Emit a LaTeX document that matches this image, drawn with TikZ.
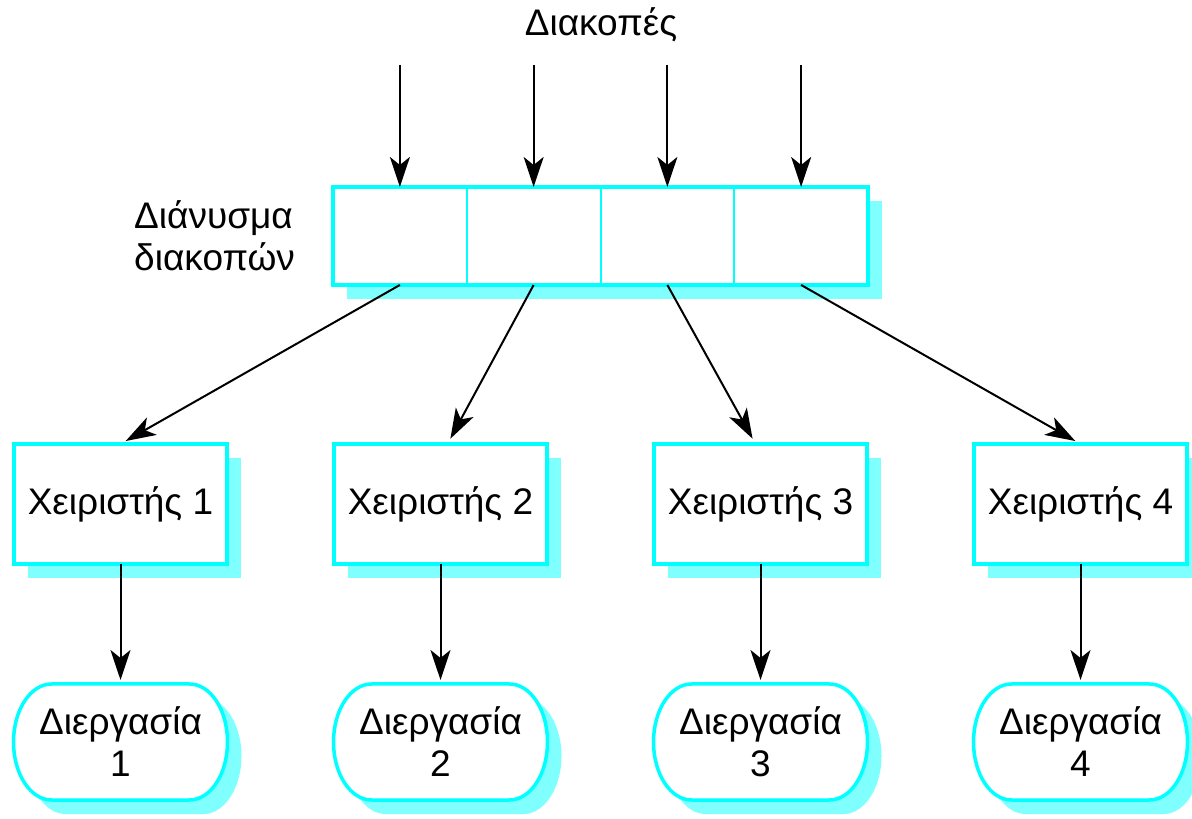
\documentclass[tikz,border=0pt]{standalone}
\usepackage{fontspec}
\setmainfont{Liberation Sans}
\usepackage{xcolor}
\usepackage{tikz}
\usetikzlibrary{arrows.meta, positioning, shadows, calc}

\definecolor{bordercyan}{HTML}{00FFFF}
\definecolor{shadecyan}{HTML}{80FFFF}

\pgfdeclarelayer{background}
\pgfsetlayers{background,main}

\tikzset{
  txt/.style={font=\fontsize{18.5pt}{21pt}\selectfont},
  cyanshade/.style={drop shadow={shadow xshift=7pt, shadow yshift=-7pt, fill=shadecyan, opacity=1}},
  handler/.style={draw=bordercyan, line width=1.75pt, fill=white, cyanshade, minimum width=106.5pt, minimum height=60pt, inner sep=0pt, outer sep=0pt, txt},
  process/.style={minimum width=107pt, minimum height=58pt, inner sep=0pt, outer sep=0pt, align=center, txt},
  procline/.style={fill=white, draw=bordercyan, line width=1.75pt},
  cell/.style={draw=bordercyan, line width=1pt, minimum width=66.875pt, minimum height=49pt, inner sep=0pt, outer sep=0pt},
  arr/.style={line width=1pt, -{Stealth[length=15pt, width=10pt, inset=4pt]}},
}

\begin{document}
\begin{tikzpicture}[x=0.5pt, y=0.5pt]
\useasboundingbox (0,0) rectangle (1192,818);

% interrupt vector
\node[txt, anchor=base] (title) at (601,782) {Διακοπές};
\node[draw=bordercyan, line width=1.75pt, fill=white, cyanshade, minimum width=267.5pt, minimum height=49pt, inner sep=0pt, outer sep=0pt] (vec) at (600.5,582) {};
\node[cell, anchor=west] (c1) at (vec.west) {};
\node[cell, right=0pt of c1] (c2) {};
\node[cell, right=0pt of c2] (c3) {};
\node[cell, right=0pt of c3] (c4) {};
\node[txt, align=left, left=15.5pt of vec] (vlabel) {Διάνυσμα\\διακοπών};

% incoming interrupts
\foreach \i in {1,...,4} {
  \coordinate[above=61pt of c\i] (in\i);
  \draw[arr] (in\i) -- (c\i.north);
}

% handlers
\node[handler] (h1) at (120.5,314) {Χειριστής 1};
\node[handler, right=53.5pt of h1] (h2) {Χειριστής 2};
\node[handler, right=53.5pt of h2] (h3) {Χειριστής 3};
\node[handler, right=53.5pt of h3] (h4) {Χειριστής 4};

\draw[arr, shorten >=3pt] (c1.south) -- (h1.north);
\draw[arr, shorten >=3pt] (c2.south) -- ([xshift=3.5pt]h2.north);
\draw[arr, shorten >=3pt] (c3.south) -- ([xshift=-2.5pt]h3.north);
\draw[arr, shorten >=3pt] (c4.south) -- (h4.north);

% processes
\foreach \i in {1,...,4} {
  \node[process, below=60pt of h\i] (p\i) {Διεργασία\\\i};
  \begin{pgfonlayer}{background}
    \fill[shadecyan] ($(p\i.north west)+(52,-14)$) -- ($(p\i.north east)+(-24,-14)$)
      arc[start angle=90, end angle=-90, x radius=19pt, y radius=29pt]
      -- ($(p\i.south west)+(52,-14)$)
      arc[start angle=270, end angle=90, x radius=19pt, y radius=29pt] -- cycle;
    \filldraw[procline] ($(p\i.north west)+(38,0)$) -- ($(p\i.north east)+(-38,0)$)
      arc[start angle=90, end angle=-90, x radius=19pt, y radius=29pt]
      -- ($(p\i.south west)+(38,0)$)
      arc[start angle=270, end angle=90, x radius=19pt, y radius=29pt] -- cycle;
  \end{pgfonlayer}
  \draw[arr, shorten >=2pt] (h\i.south) -- (p\i.north);
}
\end{tikzpicture}
\end{document}
